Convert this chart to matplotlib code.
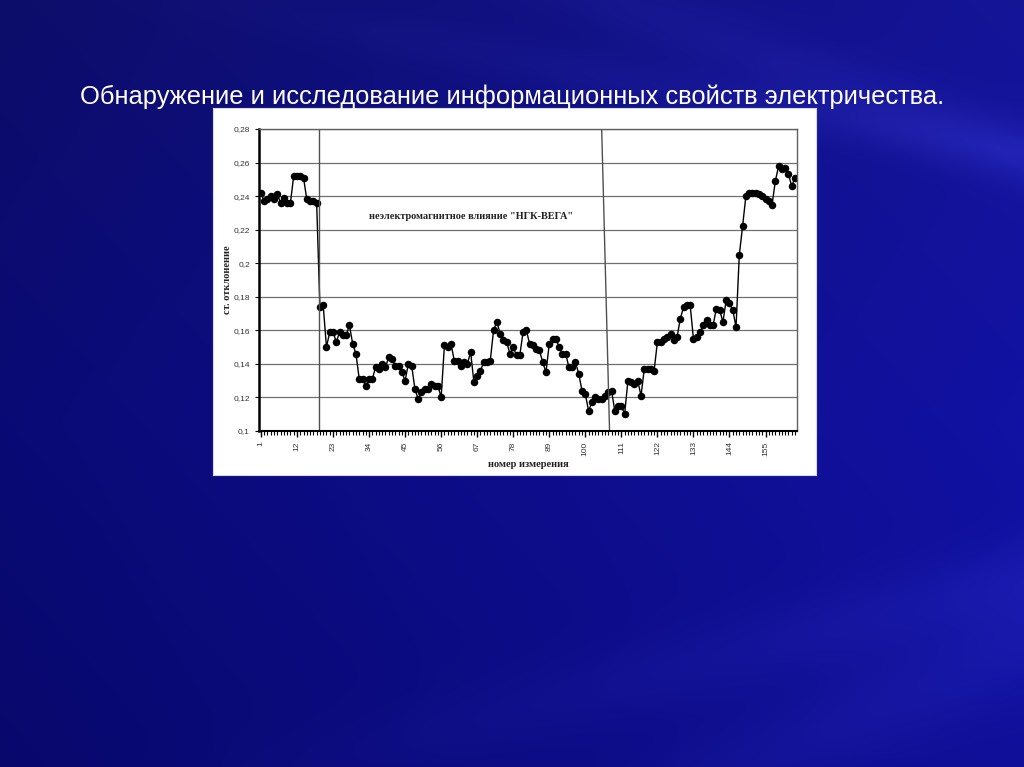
import numpy as np
import matplotlib
matplotlib.use("Agg")
import matplotlib.pyplot as plt
from matplotlib.ticker import MultipleLocator, FuncFormatter

seg_start = [0.242, 0.237, 0.238, 0.240, 0.238, 0.241, 0.236, 0.239, 0.236, 0.236,
             0.252, 0.252, 0.252, 0.251, 0.238, 0.237, 0.237, 0.236, 0.174, 0.175]
seg_low1 = [0.150, 0.159, 0.159, 0.153, 0.159, 0.157, 0.157, 0.163, 0.152, 0.146,
            0.131, 0.131, 0.127, 0.131, 0.131, 0.138, 0.137, 0.140, 0.138, 0.144,
            0.143, 0.139, 0.139, 0.135, 0.130, 0.140, 0.139, 0.125, 0.119, 0.123]
seg_low2 = [0.125, 0.125, 0.128, 0.127, 0.127, 0.120, 0.151, 0.150, 0.152, 0.142,
            0.142, 0.139, 0.141, 0.140, 0.147, 0.129, 0.133, 0.136, 0.141, 0.141,
            0.142, 0.160, 0.165, 0.158, 0.154, 0.153, 0.146, 0.150, 0.145, 0.145,
            0.159, 0.160, 0.152, 0.151, 0.149, 0.148, 0.141, 0.135, 0.152, 0.155,
            0.155, 0.150, 0.146, 0.146, 0.138, 0.138, 0.141, 0.134, 0.124, 0.122,
            0.112, 0.117, 0.120, 0.119, 0.119, 0.121, 0.123]
seg_end = [0.124, 0.112, 0.115, 0.115, 0.110, 0.130, 0.129, 0.128, 0.130, 0.121,
           0.137, 0.137, 0.137, 0.136, 0.153, 0.153, 0.155, 0.156, 0.158, 0.154,
           0.156, 0.167, 0.174, 0.175, 0.175, 0.155, 0.156, 0.159, 0.163, 0.166,
           0.163, 0.163, 0.173, 0.172, 0.165, 0.178, 0.176, 0.172, 0.162, 0.205,
           0.222, 0.240, 0.242, 0.242, 0.242, 0.241, 0.240, 0.238, 0.237, 0.235,
           0.249, 0.258, 0.256, 0.257, 0.253, 0.246, 0.251]

values = seg_start + seg_low1 + seg_low2 + seg_end
numbers = np.arange(1, len(values) + 1)
tick_numbers = list(range(1, 156, 11))

title = "Обнаружение и исследование информационных свойств электричества."
note = "неэлектромагнитное влияние \"НГК-ВЕГА\""

fig = plt.figure(figsize=(10.24, 7.67), dpi=100)

# slide background: dark blue with soft streaks
bg = fig.add_axes([0, 0, 1, 1])
yy, xx = np.mgrid[0:1:300j, 0:1:400j]
r = 0.03 + 0.03 * xx + 0.02 * (1 - yy)
g = 0.03 + 0.03 * xx + 0.02 * (1 - yy)
b = 0.38 + 0.18 * xx + 0.08 * (1 - np.abs(yy - 0.55))
for cx, cy, w, k in [(1.2, 0.3, 0.04, 0.5), (1.1, 0.72, 0.05, -0.35),
                     (1.0, 0.2, 0.03, 0.25), (0.9, 0.9, 0.06, -0.6)]:
    d = np.abs((yy - cy) - k * (xx - cx)) / np.sqrt(1 + k * k)
    s = 0.05 * np.exp(-(d / w) ** 2) * xx
    r += s * 0.6
    g += s * 0.6
    b += s
img = np.clip(np.dstack([r, g, b]), 0, 1)
bg.imshow(img, extent=[0, 1, 0, 1], aspect="auto", origin="upper")
bg.set_xlim(0, 1)
bg.set_ylim(0, 1)
bg.axis("off")

fig.text(0.5, 0.874, title, color="white", fontsize=18.4, ha="center", va="center",
         family="Liberation Sans")

# white picture frame of the chart
frame = fig.add_axes([0.208, 0.381, 0.589, 0.478])
frame.set_facecolor("white")
frame.set_xticks([])
frame.set_yticks([])
for sp in frame.spines.values():
    sp.set_color("#d8d8e0")

ax = fig.add_axes([0.2529, 0.4381, 0.5254, 0.3937])
ax.set_facecolor("white")
ax.plot(numbers, values, color="black", lw=1.0, marker="o", ms=4.4,
        mfc="black", mec="black")

ax.set_xlim(0.4, 164.6)
ax.set_ylim(0.1, 0.28)
ax.yaxis.set_major_locator(MultipleLocator(0.02))
ax.yaxis.set_major_formatter(FuncFormatter(lambda v, p: f"{v:.2f}".rstrip("0").replace(".", ",")))
ax.grid(axis="y", color="#707070", lw=0.9)
ax.set_axisbelow(True)
ax.set_xticks(tick_numbers)
ax.set_xticklabels([str(t) for t in tick_numbers], rotation=90)
ax.xaxis.set_minor_locator(MultipleLocator(1))
ax.tick_params(axis="x", which="major", length=4, width=1, labelsize=6, colors="black",
               labelcolor="#333333")
ax.tick_params(axis="x", which="minor", length=3, width=0.8)
ax.tick_params(axis="y", length=3, labelsize=6, labelcolor="#333333")
for lab in ax.get_xticklabels() + ax.get_yticklabels():
    lab.set_family("Liberation Sans")

for side in ["top", "right"]:
    ax.spines[side].set_color("#606060")
    ax.spines[side].set_linewidth(1.0)
ax.spines["left"].set_linewidth(1.8)
ax.spines["bottom"].set_linewidth(1.5)

# boundaries of the influence period (hand drawn on the original)
ax.plot([18.7, 18.7], [0.1, 0.28], color="#505050", lw=1.0)
ax.plot([105.0, 107.4], [0.28, 0.1], color="#505050", lw=1.0)

ax.text(65, 0.228, note, fontsize=7.4, fontweight="bold", ha="center", va="center",
        family="Liberation Serif", color="#222222")
ax.set_xlabel("номер измерения", fontsize=7.5, fontweight="bold",
              family="Liberation Serif", labelpad=3, color="#222222")
ax.set_ylabel("ст. отклонение", fontsize=7.5, fontweight="bold",
              family="Liberation Serif", labelpad=1, color="#222222")

fig.savefig("out.png", dpi=100)
